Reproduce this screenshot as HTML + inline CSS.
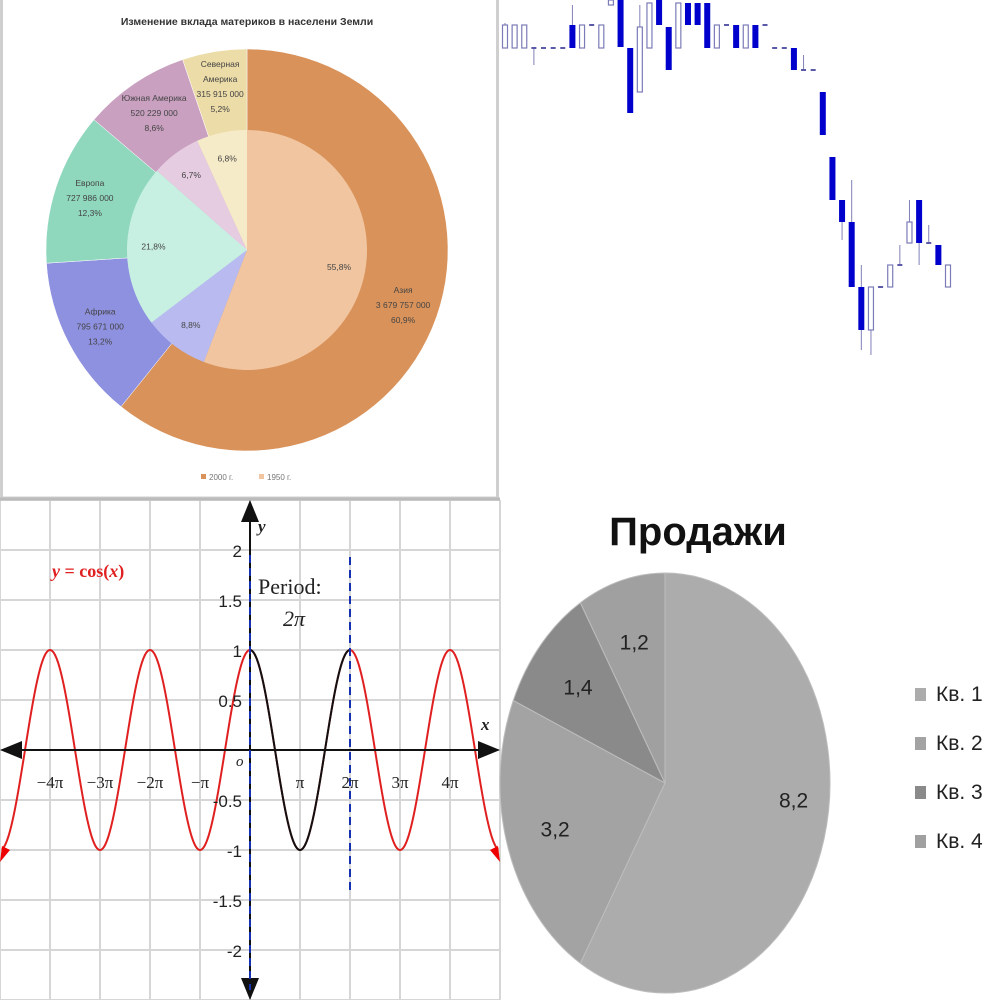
<!DOCTYPE html>
<html><head><meta charset="utf-8">
<style>
html,body{margin:0;padding:0;background:#fff;}
svg{display:block;}
</style></head>
<body>
<svg id="root" width="1000" height="1000" viewBox="0 0 1000 1000" xmlns="http://www.w3.org/2000/svg">
<rect x="0" y="0" width="1000" height="1000" fill="#fff"/>
<g id="donut">
  <rect x="1.5" y="-2" width="496" height="500" fill="#fff" stroke="#cfcfcf" stroke-width="3"/>
  <text x="247" y="25" text-anchor="middle" font-family="Liberation Sans, sans-serif" font-size="10.5" font-weight="bold" fill="#333">Изменение вклада материков в населени  Земли</text>
  <g id="outerRing"></g>
  <g id="innerPie"></g>
  <g id="donutLabels" font-family="Liberation Sans, sans-serif" font-size="8.5" fill="#444" text-anchor="middle"></g>
  <rect x="201" y="474" width="5" height="5" fill="#d9925a"/>
  <text x="209" y="480" font-family="Liberation Sans, sans-serif" font-size="8" fill="#777">2000 г.</text>
  <rect x="259" y="474" width="5" height="5" fill="#f0c5a0"/>
  <text x="267" y="480" font-family="Liberation Sans, sans-serif" font-size="8" fill="#777">1950 г.</text>
</g>
<g id="candles"></g>
<g id="cosplot"></g>
<g id="salesPie">
  <text x="698" y="545" text-anchor="middle" font-family="Liberation Sans, sans-serif" font-size="40" font-weight="bold" fill="#111">Продажи</text>
</g>
</svg>
<script>
const NS="http://www.w3.org/2000/svg";
function mk(tag,attrs,parent){const e=document.createElementNS(NS,tag);for(const k in attrs)e.setAttribute(k,attrs[k]);parent.appendChild(e);return e;}

/* ---------- Donut data ---------- */
const regions=["Азия","Африка","Европа","Южная Америка","Северная Америка"];
const share2000=[60.9,13.2,12.3,8.6,5.2];
const share1950=[55.8,8.8,21.8,6.7,6.8];
const pop2000=["3 679 757 000","795 671 000","727 986 000","520 229 000","315 915 000"];
const outerColors=["#d9925a","#8e90e0","#8fd8be","#c9a0c0","#ecdca8"];
const innerColors=["#f0c5a0","#b9bbf0","#c8f0e2","#e5cce0","#f6ebc8"];
const dcx=247,dcy=250,rOut=201,rIn=120;
function pt(cx,cy,rx,ry,deg){const a=deg*Math.PI/180;return [cx+rx*Math.sin(a),cy-ry*Math.cos(a)];}
function slice(cx,cy,rx,ry,a0,a1){const p0=pt(cx,cy,rx,ry,a0),p1=pt(cx,cy,rx,ry,a1);const lg=(a1-a0)>180?1:0;return `M${cx},${cy}L${p0[0]},${p0[1]}A${rx},${ry} 0 ${lg} 1 ${p1[0]},${p1[1]}Z`;}
(function(){
  const og=document.getElementById('outerRing'),ig=document.getElementById('innerPie'),lg=document.getElementById('donutLabels');
  let t=share2000.reduce((a,b)=>a+b,0),a=0;
  share2000.forEach((v,i)=>{const a1=a+v/t*360;const p=mk('path',{d:slice(dcx,dcy,rOut,rOut,a,a1),fill:outerColors[i],stroke:'#fff','stroke-width':0.5},og);
    
    
    const mid=(a+a1)/2;const c=pt(dcx,dcy,(rOut+rIn)/2+5,(rOut+rIn)/2+5,mid);
    const lines=i===4?["Северная","Америка",pop2000[i],v.toFixed(1).replace('.',',')+'%']:[regions[i],pop2000[i],v.toFixed(1).replace('.',',')+'%'];
    lines.forEach((s,k)=>{const tx=mk('text',{x:c[0],y:c[1]+(k-(lines.length-1)/2)*15+3},lg);tx.textContent=s;
      
      });
    a=a1;});
  t=share1950.reduce((a,b)=>a+b,0);a=0;
  share1950.forEach((v,i)=>{const a1=a+v/t*360;const p=mk('path',{d:slice(dcx,dcy,rIn,rIn,a,a1),fill:innerColors[i]},ig);
    
    
    const mid=(a+a1)/2;const c=pt(dcx,dcy,rIn*0.78,rIn*0.78,mid);
    const tx=mk('text',{x:c[0],y:c[1]+3},lg);tx.textContent=v.toFixed(1).replace('.',',')+'%';
    
    
    a=a1;});
})();

/* ---------- Candlestick data ---------- */
const cOpen=[352,352,352,352,352,352,352,375,352,375,352,395,400,352,308,352,400,373,352,397,397,397,352,375,375,352,375,375,352,352,352,330,330,308,243,200,178,113,70,113,113,135,157,200,157,155,113];
const cClose=[375,375,375,352,352,352,352,352,375,375,375,400,353,287,373,397,375,330,397,375,375,352,375,375,352,375,352,375,352,352,330,330,330,265,200,178,113,70,113,113,135,135,178,157,157,135,135];
const cHigh=[377,375,375,352,352,352,352,395,375,375,375,400,400,352,395,397,400,373,397,397,397,397,375,375,375,375,375,375,352,352,352,345,330,308,243,200,220,135,113,113,135,155,200,200,175,155,135];
const cLow=[352,352,352,335,352,352,352,352,352,375,352,395,353,287,308,352,375,330,352,375,375,352,352,375,352,352,352,375,352,352,330,330,330,265,200,160,113,50,45,113,113,135,157,135,157,135,113];
(function(){
  const g=document.getElementById('candles');
  const x0=505,x1=948,n=cOpen.length;
  const X=i=>x0+i*(x1-x0)/(n-1);
  const Y=p=>400-p;
  for(let i=0;i<n;i++){
    const o=cOpen[i],c=cClose[i],x=X(i);
    const col=o>c?'#0000cc':(o<c?'#7b7bb8':'#5a5aa8');
    const w=mk('line',{x1:x,x2:x,y1:Y(cHigh[i]),y2:Y(cLow[i]),stroke:'#8080b8','stroke-width':1},g);
    
    
    const top=Y(Math.max(o,c)),bot=Y(Math.min(o,c));
    let r;
    if(o>c){r=mk('rect',{x:x-3,y:top,width:6,height:Math.max(bot-top,1.5),fill:'#0000cc'},g);}
    else if(o<c){r=mk('rect',{x:x-2.5,y:top,width:5,height:bot-top,fill:'#fff',stroke:col,'stroke-width':1.2},g);}
    else{r=mk('rect',{x:x-2.5,y:top-1,width:5,height:2,fill:col},g);}
    
    
  }
})();

/* ---------- Cosine plot ---------- */
const xTickLabels=["−4π","−3π","−2π","−π","π","2π","3π","4π"];
const xTickValues=[-4,-3,-2,-1,1,2,3,4];
const yTickLabels=["2","1.5","1","0.5","-0.5","-1","-1.5","-2"];
const yTickValues=[2,1.5,1,0.5,-0.5,-1,-1.5,-2];
const periodMarkers=[0,2];
(function(){
  const g=document.getElementById('cosplot');
  const ox=250,oy=750,pxPerPi=50,pxPerUnit=100;
  const X=v=>ox+v*pxPerPi, Y=v=>oy-v*pxPerUnit;
  for(let k=-5;k<=5;k++){const l=mk('line',{x1:X(k),x2:X(k),y1:500,y2:1000,stroke:'#d6d6d6','stroke-width':2},g);
    
    }
  for(let v=2.5;v>=-2.5;v-=0.5){const l=mk('line',{x1:0,x2:500,y1:Y(v),y2:Y(v),stroke:'#d6d6d6','stroke-width':2},g);
    
    }
  const bl=mk('line',{x1:0,x2:500,y1:499,y2:499,stroke:'#bbb','stroke-width':3},g);
  
  
  let d='',db='';
  for(let px=2;px<=498;px++){const v=(px-ox)/pxPerPi*Math.PI;const y=Y(Math.cos(v));d+=(px===2?'M':'L')+px+','+y.toFixed(2);}
  for(let px=X(0);px<=X(2);px++){const v=(px-ox)/pxPerPi*Math.PI;const y=Y(Math.cos(v));db+=(px===X(0)?'M':'L')+px+','+y.toFixed(2);}
  const c=mk('path',{d:d,fill:'none',stroke:'#e02020','stroke-width':2},g);
  
  
  const cb=mk('path',{d:db,fill:'none',stroke:'#111','stroke-width':2},g);
  
  
  const a1=mk('polygon',{points:'0,862 2,846 10,850',fill:'#e00'},g);
  
  
  const a2=mk('polygon',{points:'500,862 498,846 490,850',fill:'#e00'},g);
  
  
  const xa=mk('line',{x1:10,x2:490,y1:oy,y2:oy,stroke:'#111','stroke-width':2},g);
  
  
  const ya=mk('line',{x1:ox,x2:ox,y1:510,y2:990,stroke:'#111','stroke-width':2},g);
  
  
  [['0,750 22,741 22,759'],['500,750 478,741 478,759'],['250,500 241,522 259,522'],['250,1000 241,978 259,978']].forEach(p=>{const a=mk('polygon',{points:p[0],fill:'#111'},g);
    
    });
  periodMarkers.forEach((m,i)=>{const l=mk('line',{x1:X(m),x2:X(m),y1:i===0?555:557,y2:i===0?990:890,stroke:'#1530b0','stroke-width':2,'stroke-dasharray':'8,5'},g);
    
    });
  xTickValues.forEach((v,i)=>{const t=mk('text',{x:X(v),y:788,'text-anchor':'middle','font-family':'Liberation Serif, serif','font-size':17,fill:'#222'},g);t.textContent=xTickLabels[i];
    
    });
  yTickValues.forEach((v,i)=>{const t=mk('text',{x:242,y:Y(v)+7,'text-anchor':'end','font-family':'Liberation Sans, sans-serif','font-size':17,fill:'#222'},g);t.textContent=yTickLabels[i];
    
    });
  const lbls=[['o',236,766,15,'italic','normal','#222','Liberation Serif, serif','origin-label'],
    ['x',481,730,17,'italic','bold','#222','Liberation Serif, serif','x-axis-title'],
    ['y',258,532,17,'italic','bold','#222','Liberation Serif, serif','y-axis-title'],
    ['Period:',258,594,22,'normal','normal','#222','Liberation Serif, serif','period-label'],
    ['2π',283,626,22,'italic','normal','#222','Liberation Serif, serif','period-value']];
  lbls.forEach(L=>{const t=mk('text',{x:L[1],y:L[2],'font-size':L[3],'font-style':L[4],'font-weight':L[5],fill:L[6],'font-family':L[7]},g);t.textContent=L[0];
    
    });
  const eq=mk('text',{x:52,y:577,'font-family':'Liberation Serif, serif','font-size':18,'font-weight':'bold',fill:'#e02020'},g);
  eq.innerHTML='<tspan font-style="italic">y</tspan> = cos(<tspan font-style="italic">x</tspan>)';
  
  
})();

/* ---------- Sales pie ---------- */
const quarters=["Кв. 1","Кв. 2","Кв. 3","Кв. 4"];
const sales=[8.2,3.2,1.4,1.2];
const salesLabels=["8,2","3,2","1,4","1,2"];
const salesColors=["#acacac","#a3a3a3","#8a8a8a","#a0a0a0"];
(function(){
  const g=document.getElementById('salesPie');
  const cx=665,cy=783,rx=165,ry=210;
  const tot=sales.reduce((a,b)=>a+b,0);let a=0;
  sales.forEach((v,i)=>{const a1=a+v/tot*360;
    const p=mk('path',{d:slice(cx,cy,rx,ry,a,a1),fill:salesColors[i],stroke:'#bdbdbd','stroke-width':1},g);
    
    
    const mid=(a+a1)/2;const f=i===0?0.62:0.7;const c=pt(cx,cy,rx*f,ry*f,mid);
    const t=mk('text',{x:c[0]+(i===0?30:0),y:c[1]+(i===0?-10:8),'text-anchor':'middle','font-family':'Liberation Sans, sans-serif','font-size':21,fill:'#222'},g);t.textContent=salesLabels[i];
    
    
    a=a1;});
  quarters.forEach((q,i)=>{const y=697+i*49;
    const s=mk('rect',{x:915,y:y-9,width:11,height:13,fill:salesColors[i]},g);
    
    
    const t=mk('text',{x:936,y:y+4,'font-family':'Liberation Sans, sans-serif','font-size':21,fill:'#222'},g);t.textContent=q;
    
    });
})();
</script>
</body></html>
